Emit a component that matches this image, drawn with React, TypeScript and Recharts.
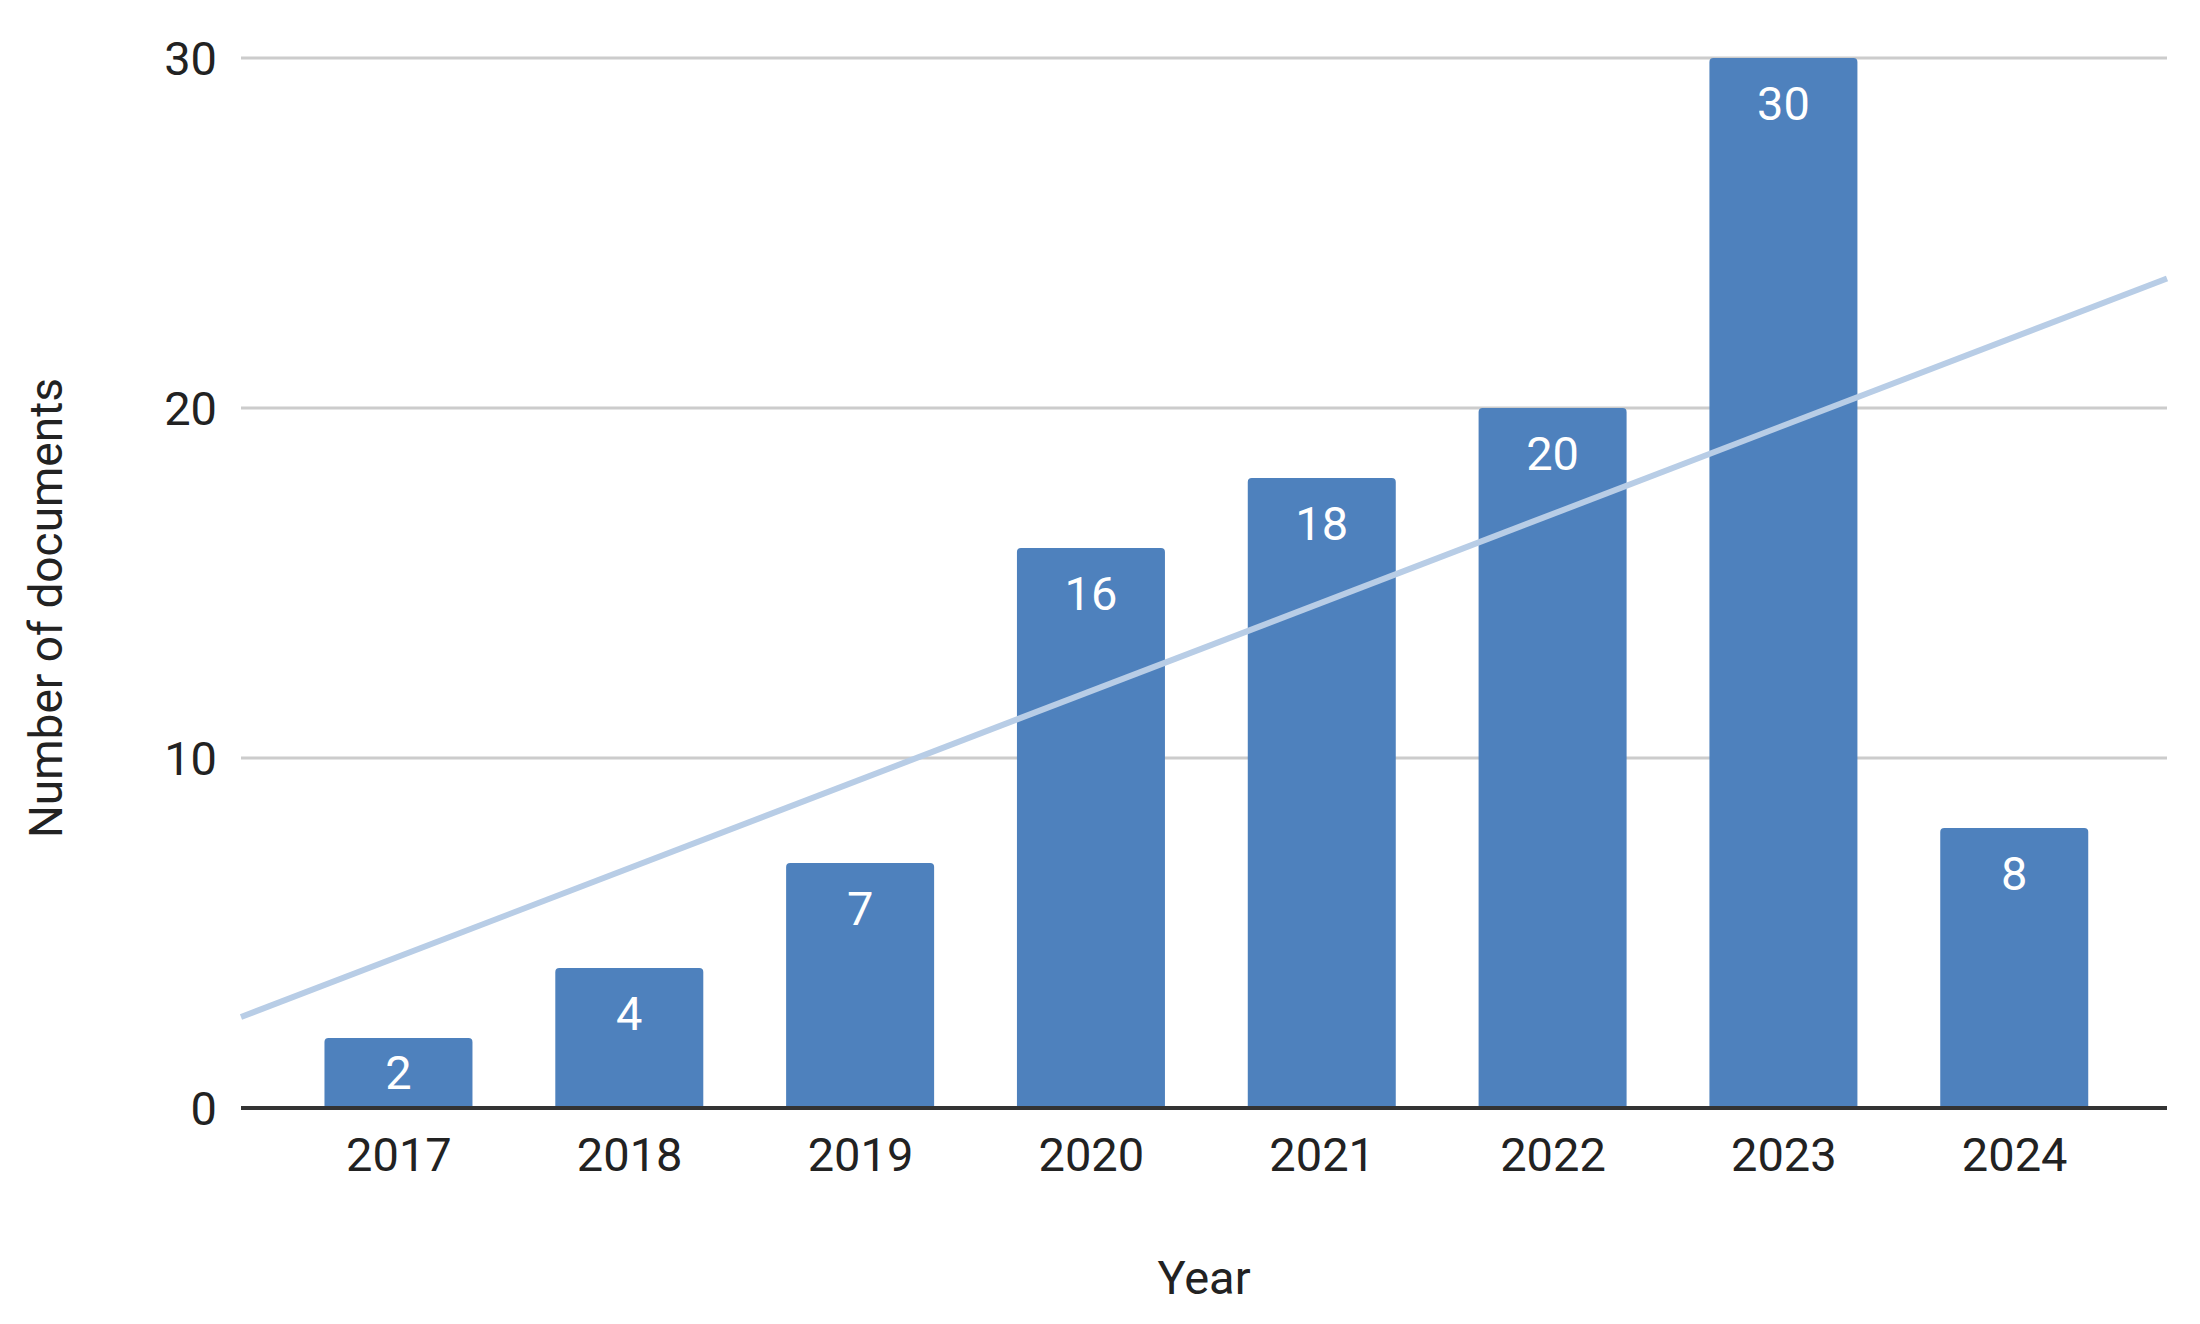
import React from 'react';
import {
  ComposedChart,
  Bar,
  XAxis,
  YAxis,
  CartesianGrid,
  LabelList,
  ReferenceLine,
} from 'recharts';

// Значения
const years = [2017, 2018, 2019, 2020, 2021, 2022, 2023, 2024];
const yearLabels = ['2017', '2018', '2019', '2020', '2021', '2022', '2023', '2024'];
const documents = [2, 4, 7, 16, 18, 20, 30, 8];
const yTicks = [0, 10, 20, 30];

// Линия тренда: концы по краям области графика
const trendYears = [2016.316, 2024.66];
const trendValues = [2.6, 23.7];

const xDomain: [number, number] = [trendYears[0], trendYears[1]];

const chartData = years.map((year, i) => ({ year, documents: documents[i] }));

const FONT = 'Roboto, "Noto Sans", sans-serif';
const FONT_SIZE = 47;
const BAR_COLOR = '#4e81bd';
const TREND_COLOR = '#b8cde6';

const renderBarLabel = (props: any) => {
  const vb = props.viewBox ?? {};
  const x = props.x ?? vb.x;
  const y = props.y ?? vb.y;
  const width = props.width ?? vb.width;
  const height = props.height ?? vb.height;
  // Внутри столбца сверху; у низких столбцов — по центру
  const inset = Math.min(29, (height - 34) / 2);
  return (
    <text
      x={x + width / 2}
      y={y + inset}
      dy="0.71em"
      textAnchor="middle"
      fill="#ffffff"
      fontSize={FONT_SIZE}
      fontFamily={FONT}
    >
      {props.value}
    </text>
  );
};

const renderYTitle = () => (
  <text
    x={62}
    y={608}
    transform="rotate(-90 62 608)"
    textAnchor="middle"
    fill="#222"
    fontSize={46}
    fontFamily={FONT}
  >
    Number of documents
  </text>
);

export default function App() {
  return (
    <div style={{ position: 'absolute', left: 0, top: 0, width: 2200, height: 1324, background: '#fff' }}>
      <ComposedChart
        width={2200}
        height={1324}
        data={chartData}
        margin={{ top: 58, right: 33, left: 0, bottom: 0 }}
      >
        <CartesianGrid vertical={false} stroke="#cccccc" strokeWidth={3} />
        <YAxis
          type="number"
          domain={[0, 30]}
          ticks={yTicks}
          width={241}
          axisLine={false}
          tickLine={false}
          tickSize={0}
          tickMargin={24}
          tick={{ fill: '#222', fontSize: FONT_SIZE, fontFamily: FONT }}
          label={renderYTitle}
        />
        <Bar
          dataKey="documents"
          fill={BAR_COLOR}
          barSize={148}
          radius={[4, 4, 0, 0]}
          isAnimationActive={false}
        >
          <LabelList dataKey="documents" content={renderBarLabel} />
        </Bar>
        <ReferenceLine
          segment={[
            { x: trendYears[0], y: trendValues[0] },
            { x: trendYears[1], y: trendValues[1] },
          ]}
          stroke={TREND_COLOR}
          strokeWidth={6}
          ifOverflow="visible"
        />
        <XAxis
          dataKey="year"
          type="number"
          domain={xDomain}
          allowDataOverflow
          ticks={years}
          tickFormatter={(v: number) => yearLabels[years.indexOf(v)]}
          height={216}
          axisLine={{ stroke: '#333', strokeWidth: 4 }}
          tickLine={false}
          tickSize={0}
          tickMargin={30}
          tick={{ fill: '#222', fontSize: FONT_SIZE, fontFamily: FONT }}
          label={{ value: 'Year', position: 'insideBottom', offset: 30, fill: '#222', fontSize: FONT_SIZE, fontFamily: FONT }}
        />
      </ComposedChart>
    </div>
  );
}
